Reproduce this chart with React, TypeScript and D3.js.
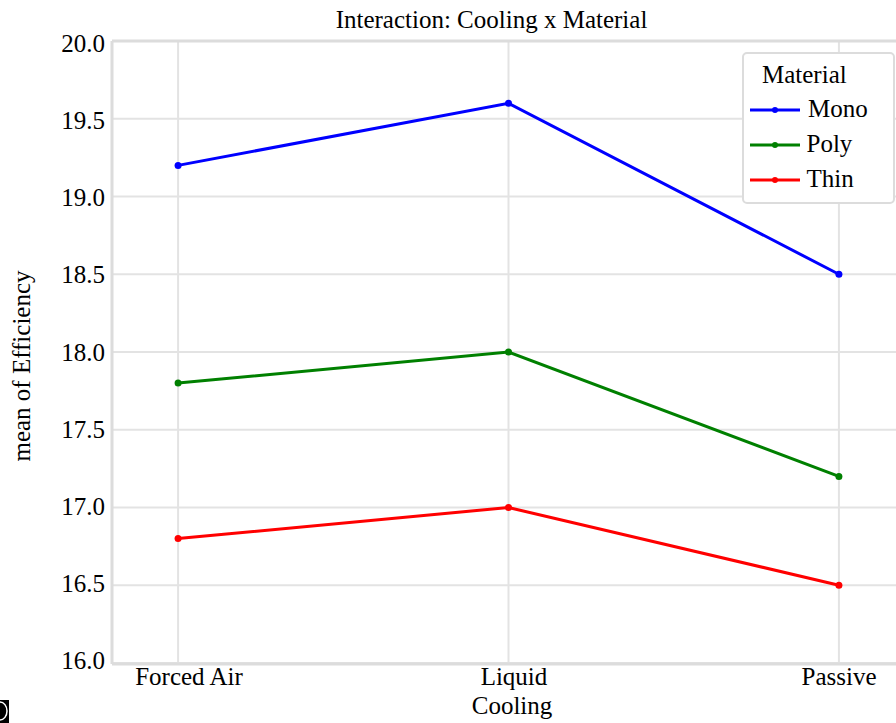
import React from "react";
import * as d3 from "d3";

const categories = ["Forced Air", "Liquid", "Passive"];
const seriesNames = ["Mono", "Poly", "Thin"];
const monoValues = [19.2, 19.6, 18.5];
const polyValues = [17.8, 18.0, 17.2];
const thinValues = [16.8, 17.0, 16.5];
const yTicks = [16.0, 16.5, 17.0, 17.5, 18.0, 18.5, 19.0, 19.5, 20.0];
const seriesColors = ["#0000ff", "#008000", "#ff0000"];

const W = 896;
const H = 723;
const FONT = "Liberation Serif, DejaVu Serif, serif";

export default function App() {
  const series = [monoValues, polyValues, thinValues];
  const left = 112, right = 905, top = 41, bottom = 663;
  const x = d3.scaleLinear().domain([-0.2, categories.length - 1 + 0.2]).range([left, right]);
  const y = d3.scaleLinear().domain([16, 20]).range([bottom, top]);
  // label placement scales (labels are slightly offset from the grid in the reference)
  const yLab = d3.scaleLinear().domain([16, 20]).range([660.5, 44]);
  const xLab = d3.scaleLinear().domain([0, categories.length - 1]).range([189, 839]);
  const line = d3
    .line<number>()
    .x((_, i) => x(i))
    .y((d) => y(d));
  const ts: React.CSSProperties = { fontFamily: FONT, fontSize: 25 };

  return (
    <svg
      width={W}
      height={H}
      style={{ position: "absolute", left: 0, top: 0, background: "#fff", fontFamily: FONT }}
    >
      <rect x={0} y={0} width={W} height={H} fill="#fff" />
      {yTicks.map((t) => (
        <line key={"gy" + t} x1={left} x2={W} y1={y(t)} y2={y(t)} stroke="#e3e3e3" strokeWidth={2} />
      ))}
      {categories.map((c, i) => (
        <line key={"gx" + c} x1={x(i)} x2={x(i)} y1={top} y2={bottom} stroke="#e3e3e3" strokeWidth={2} />
      ))}
      <line x1={left} x2={W} y1={top} y2={top} stroke="#dcdcdc" strokeWidth={3} />
      <line x1={left} x2={W} y1={bottom + 1} y2={bottom + 1} stroke="#dcdcdc" strokeWidth={3} />
      <line x1={left} x2={left} y1={top} y2={bottom + 1} stroke="#dcdcdc" strokeWidth={3} />
      {yTicks.map((t) => (
        <text key={"ty" + t} x={105} y={yLab(t) + 8.3} textAnchor="end" style={ts} fill="#000">
          {d3.format(".1f")(t)}
        </text>
      ))}
      {categories.map((c, i) => (
        <text key={"tx" + c} x={xLab(i)} y={685} textAnchor="middle" style={ts} fill="#000">
          {c}
        </text>
      ))}
      <text x={512} y={714} textAnchor="middle" style={ts} fill="#000">
        Cooling
      </text>
      <text transform={`translate(30, 366) rotate(-90)`} textAnchor="middle" style={ts} fill="#000">
        mean of Efficiency
      </text>
      <text x={491.5} y={28} textAnchor="middle" style={ts} fill="#000">
        Interaction: Cooling x Material
      </text>
      {series.map((vals, si) => (
        <g key={"s" + si}>
          <path d={line(vals) || ""} fill="none" stroke={seriesColors[si]} strokeWidth={3} />
          {vals.map((v, i) => (
            <circle key={i} cx={x(i)} cy={y(v)} r={3.5} fill={seriesColors[si]} />
          ))}
        </g>
      ))}
      <g>
        <rect x={743} y={53} width={151} height={150} rx={4} fill="#fff" stroke="#dcdcdc" strokeWidth={2} />
        <text x={762} y={83} style={ts} fill="#000">Material</text>
        {seriesNames.map((n, i) => {
          const ly = 110 + i * 35;
          return (
            <g key={n}>
              <line x1={750} x2={800} y1={ly} y2={ly} stroke={seriesColors[i]} strokeWidth={3} />
              <circle cx={775} cy={ly} r={3} fill={seriesColors[i]} />
              <text x={n === "Mono" ? 808 : 806.5} y={ly + 6.5} style={ts} fill="#000">{n}</text>
            </g>
          );
        })}
      </g>
      <rect x={0} y={700} width={9} height={23} fill="#000" />
      <path d="M0,702 A7,9 0 0 1 0,720" fill="none" stroke="#fff" strokeWidth={1.5} />
    </svg>
  );
}
